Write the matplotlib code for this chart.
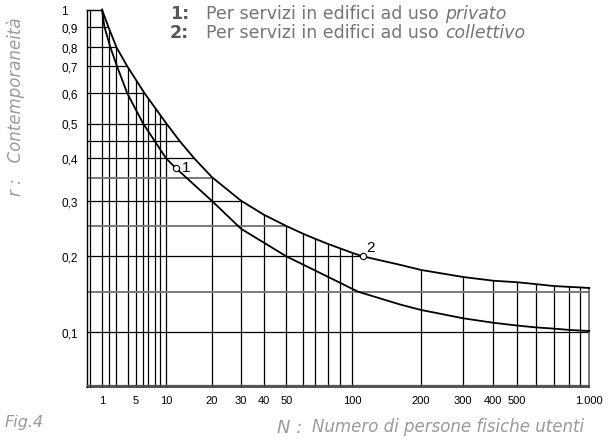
import numpy as np
import matplotlib
matplotlib.use('Agg')
import matplotlib.pyplot as plt
from matplotlib.patches import Polygon
from matplotlib.transforms import ScaledTranslation

# curve 1 : servizi in edifici ad uso privato
n_privato = [1, 1.28, 2.2, 3.09, 3.95, 6.0, 9.95, 11.5, 20, 30, 50, 106, 162, 200, 300, 400, 500, 600, 700, 800, 1000]
r_privato = [1, 0.9, 0.8, 0.7, 0.6, 0.5, 0.4, 0.375, 0.3, 0.245, 0.2, 0.15, 0.132, 0.125, 0.115, 0.11, 0.107, 0.105, 0.1037, 0.1024, 0.1013]

# curve 2 : servizi in edifici ad uso collettivo
n_collettivo = [1, 1.92, 3.05, 3.95, 6.27, 10, 12.2, 15.3, 20, 30, 40, 50, 60, 70, 80, 90, 100, 111,
                162, 200, 300, 400, 500, 600, 700, 800, 900, 1000]
r_collettivo = [1, 0.9, 0.8, 0.7, 0.6, 0.5, 0.45, 0.4, 0.3525, 0.3, 0.271, 0.25, 0.236, 0.2276, 0.2193, 0.2122, 0.2051, 0.2,
                0.1866, 0.179, 0.169, 0.164, 0.162, 0.1595, 0.157, 0.156, 0.1553, 0.1545]

# labelled points on the curves
mark_n = [11.5, 111]
mark_r = [0.375, 0.2]
mark_txt = ['1', '2']

grid_n = [1, 2, 3, 4, 5, 6, 7, 8, 9, 10, 20, 30, 40, 50, 60, 70, 80, 90, 100,
          200, 300, 400, 500, 600, 700, 800, 900]
grid_r = [0.9, 0.8, 0.7, 0.6, 0.5, 0.45, 0.4, 0.3, 0.2, 0.1]
grid_r_gray = [0.35, 0.25, 0.15]

xticks = [1, 5, 10, 20, 30, 40, 50, 100, 200, 300, 400, 500, 1000]
xlabels = ['1', '5', '10', '20', '30', '40', '50', '100', '200', '300', '400', '500', '1.000']
yticks = [1, 0.9, 0.8, 0.7, 0.6, 0.5, 0.4, 0.3, 0.2, 0.1]
ylabels = ['1', '0,9', '0,8', '0,7', '0,6', '0,5', '0,4', '0,3', '0,2', '0,1']

N_MIN, N_MAX = 0.7, 1000
R_MIN, R_MAX = 0.06, 1

# the nomogram is not a true log-log sheet: calibrate the axes on its rulings
x_cal_val = [0.7, 1, 2, 3, 4, 5, 6, 7, 8, 9, 10, 20, 30, 40, 50, 60, 70, 80, 90, 100,
             200, 300, 400, 500, 600, 700, 800, 900, 1000]
x_cal_px = [86.7, 102.0, 108.7, 115.8, 127.8, 135.8, 143.1, 148.3, 154.7, 160.0, 166.4,
            211.7, 241.0, 264.0, 286.3, 303.3, 315.0, 327.6, 339.8, 352.3,
            421.0, 463.3, 493.3, 517.0, 536.0, 554.3, 569.3, 580.0, 589.3]
y_cal_val = [0.06, 0.1, 0.15, 0.2, 0.25, 0.3, 0.35, 0.4, 0.45, 0.5, 0.6, 0.7, 0.8, 0.9, 1.0]
y_cal_px = [388.3, 333.3, 292.7, 257.3, 227.0, 201.7, 179.0, 159.3, 141.7, 124.5,
            94.3, 67.3, 48.3, 27.7, 10.7]

W, H = 608, 439
FONT = 'DejaVu Sans'


def nomo_scale(vals, px, sign):
	lv = np.log10(vals)
	p = sign * np.asarray(px, float)
	def fwd(v):
		v = np.log10(np.clip(np.asarray(v, float), 1e-6, None))
		return np.interp(v, lv, p)
	def inv(q):
		return 10 ** np.interp(q, p, lv)
	return fwd, inv


fx, _ = nomo_scale(x_cal_val, x_cal_px, 1)
fy, _ = nomo_scale(y_cal_val, y_cal_px, -1)

fig = plt.figure(figsize=(W / 100, H / 100), dpi=100)
x0, x1 = fx(N_MIN), fx(N_MAX)
ytop, ybot = -fy(R_MAX), -fy(R_MIN)
ax = fig.add_axes([x0 / W, 1 - ybot / H, (x1 - x0) / W, (ybot - ytop) / H])
ax.set_xscale('function', functions=nomo_scale(x_cal_val, x_cal_px, 1))
ax.set_yscale('function', functions=nomo_scale(y_cal_val, y_cal_px, -1))
ax.set_xlim(N_MIN, N_MAX)
ax.set_ylim(R_MIN, R_MAX)
for s in ax.spines.values():
	s.set_visible(False)

# grid only lives below the upper curve
clip = Polygon([(N_MIN, R_MIN), (N_MIN, R_MAX)] + list(zip(n_collettivo, r_collettivo)) + [(N_MAX, R_MIN)],
               closed=True, transform=ax.transData, facecolor='none', edgecolor='none')
for n in grid_n:
	ln = ax.axvline(n, color='black', lw=0.9)
	ln.set_clip_path(clip)
for r in grid_r:
	ln = ax.axhline(r, color='black', lw=0.9)
	ln.set_clip_path(clip)
for r in grid_r_gray:
	ln = ax.axhline(r, color='#7a7a7a', lw=1.4)
	ln.set_clip_path(clip)
ax.plot([N_MAX, N_MAX], [R_MIN, r_collettivo[-1]], color='#555555', lw=1.1, clip_on=False)
ax.plot([N_MIN, 1], [R_MAX, R_MAX], color='black', lw=1.0, clip_on=False)

# double frame left and bottom
shift_r = ax.transData + ScaledTranslation(2.8 / 100, 0, fig.dpi_scale_trans)
shift_u = ax.transData + ScaledTranslation(0, 2.2 / 100, fig.dpi_scale_trans)
ax.plot([N_MIN, N_MIN], [R_MIN, R_MAX], color='black', lw=1.0, clip_on=False)
ax.plot([N_MIN, N_MIN], [R_MIN, R_MAX], color='black', lw=0.9, clip_on=False, transform=shift_r)
ax.plot([N_MIN, N_MAX], [R_MIN, R_MIN], color='#333333', lw=1.2, clip_on=False)
ax.plot([N_MIN, N_MAX], [R_MIN, R_MIN], color='#555555', lw=0.9, clip_on=False, transform=shift_u)

ax.plot(n_privato, r_privato, color='black', lw=1.3, clip_on=False, zorder=3)
ax.plot(n_collettivo, r_collettivo, color='black', lw=1.3, clip_on=False, zorder=3)
ax.plot(mark_n, mark_r, 'o', ms=4.5, mfc='white', mec='black', mew=0.8, zorder=4, clip_on=False)
offs = [(7.5, 0.7), (6, 7)]
for n, r, t, o in zip(mark_n, mark_r, mark_txt, offs):
	ax.annotate(t, (n, r), xytext=o, textcoords='offset points', ha='center', va='center',
	            fontsize=11, family='Liberation Sans')

ax.set_xticks(xticks, xlabels)
ax.set_yticks(yticks, ylabels)
ax.minorticks_off()
ax.tick_params(axis='both', length=0)
ax.tick_params(axis='x', pad=5.5, labelsize=8)
ax.tick_params(axis='y', pad=18.5, labelsize=8.5)
for lab in ax.get_xticklabels() + ax.get_yticklabels():
	lab.set_family('Liberation Sans')
for lab in ax.get_yticklabels():
	lab.set_ha('left')

# legend block, two lines per text so they can sit tight (baseline = last line)
yb = 1 - 37.5 / H
fig.text(170 / W, yb, '1:\n2:', fontsize=12.5, weight='bold', color='#575757', family=FONT,
         va='baseline', linespacing=1.03)
t = fig.text(206.5 / W, yb, 'Per servizi in edifici ad uso \nPer servizi in edifici ad uso ',
             fontsize=12.5, color='#747474', family=FONT, va='baseline', linespacing=1.03)
ex = t.get_window_extent(fig.canvas.get_renderer())
fig.text(ex.x1 / W, yb, 'privato\ncollettivo', fontsize=12.5, style='italic', color='#747474',
         family=FONT, va='baseline', linespacing=1.03)

lab_col = '#9a9a9a'
fig.text(16 / W, 1 - 107 / H, 'r :   Contemporaneità', rotation=90, ha='center', va='center',
         fontsize=12, style='italic', color=lab_col, family=FONT)
fig.text(277 / W, 1 - 433 / H, 'N :', fontsize=13, style='italic', color=lab_col,
         family=FONT, va='baseline')
fig.text(312 / W, 1 - 432 / H, 'Numero di persone fisiche utenti', fontsize=12,
         style='italic', color=lab_col, family=FONT, va='baseline')
fig.text(5 / W, 1 - 427 / H, 'Fig.4', fontsize=11.5, style='italic', color=lab_col,
         family=FONT, va='baseline')

fig.savefig('out.png', dpi=100)
